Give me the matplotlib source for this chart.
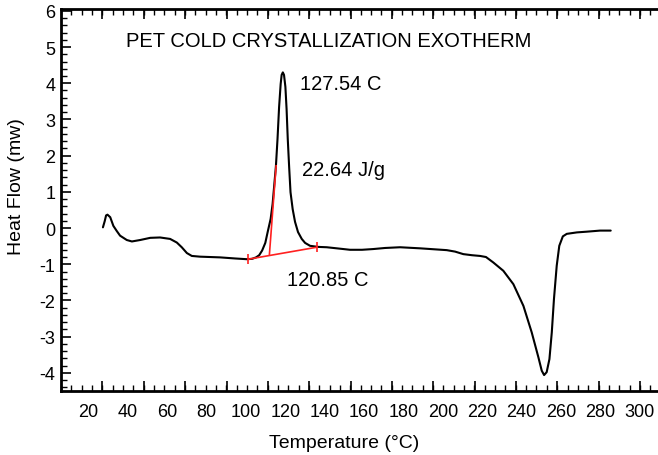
import numpy as np
import matplotlib
matplotlib.use("Agg")
import matplotlib.pyplot as plt
import matplotlib.transforms as mtransforms

plt.rcParams['font.family'] = ['Liberation Sans', 'DejaVu Sans']

# DSC trace (temperature in C, heat flow in mW)
temperature = [27.5, 28.4, 29.1, 29.8, 31.2, 32.8, 34.5, 36.2, 39.6, 42.2,
               46.4, 51.5, 56.5, 61.6, 65.0, 67.5, 70.1, 72.6, 76.8, 87.0,
               94.6, 100.5, 103.2, 105.2, 106.8, 108.3, 109.9, 111.1, 112.6, 113.6,
               114.5, 115.3, 116.1, 116.9, 117.7, 118.2, 118.8, 119.4, 120.1, 120.7,
               121.3, 122.0, 122.7, 123.8, 125.0, 126.5, 128.4, 130.1, 132.6, 136.6,
               141.1, 147.9, 152.9, 159.0, 164.6, 170.7, 178.3, 188.5, 202.0, 206.2,
               210.4, 214.8, 218.9, 221.9, 225.6, 230.7, 235.8, 240.9, 245.1, 248.5,
               250.2, 251.4, 252.7, 254.1, 255.3, 256.4, 257.8, 259.1, 260.9, 262.9,
               268.0, 273.0, 279.8, 285.2]
heat_flow = [0.02, 0.19, 0.35, 0.37, 0.30, 0.06, -0.08, -0.21, -0.33, -0.37,
             -0.33, -0.27, -0.26, -0.30, -0.40, -0.53, -0.69, -0.77, -0.79, -0.81,
             -0.84, -0.86, -0.85, -0.81, -0.75, -0.62, -0.41, -0.11, 0.25, 0.66,
             1.22, 1.72, 2.46, 3.34, 3.98, 4.23, 4.30, 4.23, 3.90, 3.29,
             2.46, 1.69, 0.99, 0.52, 0.17, -0.11, -0.30, -0.41, -0.49, -0.52,
             -0.53, -0.57, -0.60, -0.60, -0.58, -0.55, -0.53, -0.56, -0.61, -0.65,
             -0.72, -0.75, -0.77, -0.80, -0.95, -1.18, -1.55, -2.15, -2.88, -3.57,
             -3.94, -4.06, -3.98, -3.62, -2.88, -1.96, -1.04, -0.49, -0.23, -0.16,
             -0.12, -0.10, -0.07, -0.07]

# red construction lines
baseline_x = [101.3, 136.0]
baseline_y = [-0.86, -0.53]
tangent_x = [112.0, 115.4]
tangent_y = [-0.72, 1.72]

x_labels = list(range(20, 301, 20))
y_ticks = list(range(-4, 7))

fig = plt.figure(figsize=(6.58, 4.56), dpi=100)
ax = fig.add_axes([0.0925, 0.1404, 0.9075, 0.8376])

ax.plot(temperature, heat_flow, color='black', lw=1.5,
        solid_joinstyle='round', solid_capstyle='round')
ax.plot(baseline_x, baseline_y, color='#ff2020', lw=1.2, marker='|', markersize=7, mew=1.2)
ax.plot(tangent_x, tangent_y, color='#ff2020', lw=1.2)

ax.text(127.6, 4.0, '127.54 C', fontsize=14.5, va='center')
ax.text(128.4, 1.63, '22.64 J/g', fontsize=14.5, va='center')
ax.text(120.8, -1.41, '120.85 C', fontsize=14.5, va='center')
ax.text(39.3, 5.17, 'PET COLD CRYSTALLIZATION EXOTHERM', fontsize=14.5, va='center')

ax.set_xlim(6.15, 309.2)
ax.set_ylim(-4.5, 6.05)

# tick marks (drawn slightly off the printed labels, as in the original)
ax.set_xticks(np.arange(27.26, 301, 20.99))
ax.set_xticks(np.arange(6.15, 309.2, 5.2475), minor=True)
ax.set_xticklabels([])
ax.set_yticks(y_ticks)
ax.set_yticks(np.arange(-4.4, 6.01, 0.2), minor=True)
ax.set_yticklabels([str(v) for v in y_ticks], fontsize=13)

ax.tick_params(axis='x', which='major', direction='in', length=7, width=1.2, top=True)
ax.tick_params(axis='x', which='minor', direction='in', length=4, width=1.0, top=True)
ax.tick_params(axis='y', which='major', direction='in', length=7, width=1.2, pad=4, right=False)
ax.tick_params(axis='y', which='minor', direction='in', length=4, width=1.0, right=False)

trans = mtransforms.blended_transform_factory(ax.transData, ax.transAxes)
for v in x_labels:
    ax.text(v, -0.055, str(v), transform=trans, ha='center', va='center', fontsize=13)

for side in ['left', 'bottom', 'top']:
    ax.spines[side].set_linewidth(2)
ax.spines['right'].set_visible(False)

ax.set_xlabel('Temperature (°C)', fontsize=14)
ax.set_ylabel('Heat Flow (mw)', fontsize=14)
ax.xaxis.set_label_coords(0.474, -0.112)
ax.yaxis.set_label_coords(-0.06, 0.539)

fig.savefig('out.png', dpi=100, facecolor='white')
